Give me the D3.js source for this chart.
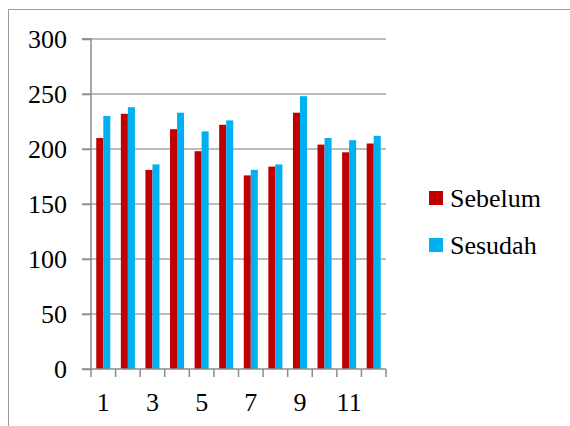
<!DOCTYPE html>
<html>
<head>
<meta charset="utf-8">
<script src="https://cdn.jsdelivr.net/npm/d3@7"></script>
<style>
  html, body { margin: 0; padding: 0; background: #fff; }
  svg { display: block; }
</style>
</head>
<body>
<script>
// Chart data
const categories = ["1","2","3","4","5","6","7","8","9","10","11","12"];
const sebelum = [210, 232, 181, 218, 198, 222, 176, 184, 233, 204, 197, 205];
const sesudah = [230, 238, 186, 233, 216, 226, 181, 186, 248, 210, 208, 212];
const seriesNames = ["Sebelum", "Sesudah"];
const seriesColors = ["#C00000", "#00B0F0"];
const yTicks = [0, 50, 100, 150, 200, 250, 300];

const W = 570, H = 426;
const FONT = "Liberation Serif";
const FONT_SIZE = 26;
const axisColor = "#8c8c8c";

const svg = d3.select("body").append("svg")
  .attr("width", W).attr("height", H)
  .attr("font-family", FONT).attr("font-size", FONT_SIZE);

// Outer chart frame (open at right and bottom edges of the window)
svg.append("path")
  .attr("d", `M8.5,${H} L8.5,9.5 L${W},9.5`)
  .attr("fill", "none").attr("stroke", "#9a9a9a").attr("stroke-width", 1);

const plot = { left: 91, right: 386, top: 39, bottom: 369 };
const yTickLen = 9;

const x = d3.scaleBand().domain(categories).range([plot.left, plot.right]).paddingInner(0).paddingOuter(0);
const y = d3.scaleLinear().domain([0, 300]).range([plot.bottom, plot.top]);

// Gridlines
svg.append("g").selectAll("line").data(yTicks.filter(d => d > 0)).join("line")
  .attr("x1", plot.left - yTickLen).attr("x2", plot.right)
  .attr("y1", d => y(d)).attr("y2", d => y(d))
  .attr("stroke", "#a6a6a6").attr("stroke-width", 1.5);

// Bars: two series per category, gap between groups of 150% of a bar
const barW = x.bandwidth() / 3.5;
const data = categories.map((c, i) => ({ c, vals: [sebelum[i], sesudah[i]] }));
const groups = svg.append("g").selectAll("g").data(data).join("g");
groups.selectAll("rect").data(d => d.vals.map((v, k) => ({ c: d.c, v, k }))).join("rect")
  .attr("x", d => x(d.c) + x.bandwidth() / 2 - barW + d.k * barW)
  .attr("width", barW)
  .attr("y", d => y(d.v))
  .attr("height", d => y(0) - y(d.v))
  .attr("fill", d => seriesColors[d.k]);

// Y axis
const yAxis = d3.axisLeft(y).tickValues(yTicks).tickSize(yTickLen).tickPadding(15).tickFormat(d3.format("d"));
const gy = svg.append("g").attr("transform", `translate(${plot.left},0)`).call(yAxis)
  .attr("font-family", FONT).attr("font-size", FONT_SIZE);
gy.select(".domain").attr("stroke", axisColor).attr("stroke-width", 1.5)
  .attr("d", `M${-yTickLen},${plot.top}H0V${plot.bottom}`);
gy.selectAll(".tick line").attr("stroke", axisColor).attr("stroke-width", 1.5);
gy.selectAll("text").attr("font-family", FONT).attr("font-size", FONT_SIZE).attr("fill", "#000");

// X axis: category labels on every other tick
const xAxis = d3.axisBottom(x).tickSize(8).tickPadding(16)
  .tickFormat((d, i) => (i % 2 === 0 ? d : ""));
const gx = svg.append("g").attr("transform", `translate(0,${plot.bottom})`).call(xAxis)
  .attr("font-family", FONT).attr("font-size", FONT_SIZE);
gx.select(".domain").attr("stroke", axisColor).attr("stroke-width", 1.5)
  .attr("d", `M${plot.left - yTickLen},0H${plot.right}`);
gx.selectAll(".tick line").attr("stroke", axisColor).attr("stroke-width", 1.5)
  .attr("transform", `translate(${-x.bandwidth() / 2},0)`);
// closing tick at the right end of the category axis
gx.append("line").attr("x1", plot.right).attr("x2", plot.right).attr("y1", 0).attr("y2", 8)
  .attr("stroke", axisColor).attr("stroke-width", 1.5);
gx.selectAll("text").attr("font-family", FONT).attr("font-size", FONT_SIZE).attr("fill", "#000");

// Legend
const legend = svg.append("g");
seriesNames.forEach((name, i) => {
  const ly = 191 + i * 47;
  legend.append("rect").attr("x", 429).attr("y", ly).attr("width", 14).attr("height", 14)
    .attr("fill", seriesColors[i]);
  legend.append("text").attr("x", 450).attr("y", ly + 16)
    .attr("font-family", FONT).attr("font-size", FONT_SIZE).attr("fill", "#000").text(name);
});
</script>
</body>
</html>
